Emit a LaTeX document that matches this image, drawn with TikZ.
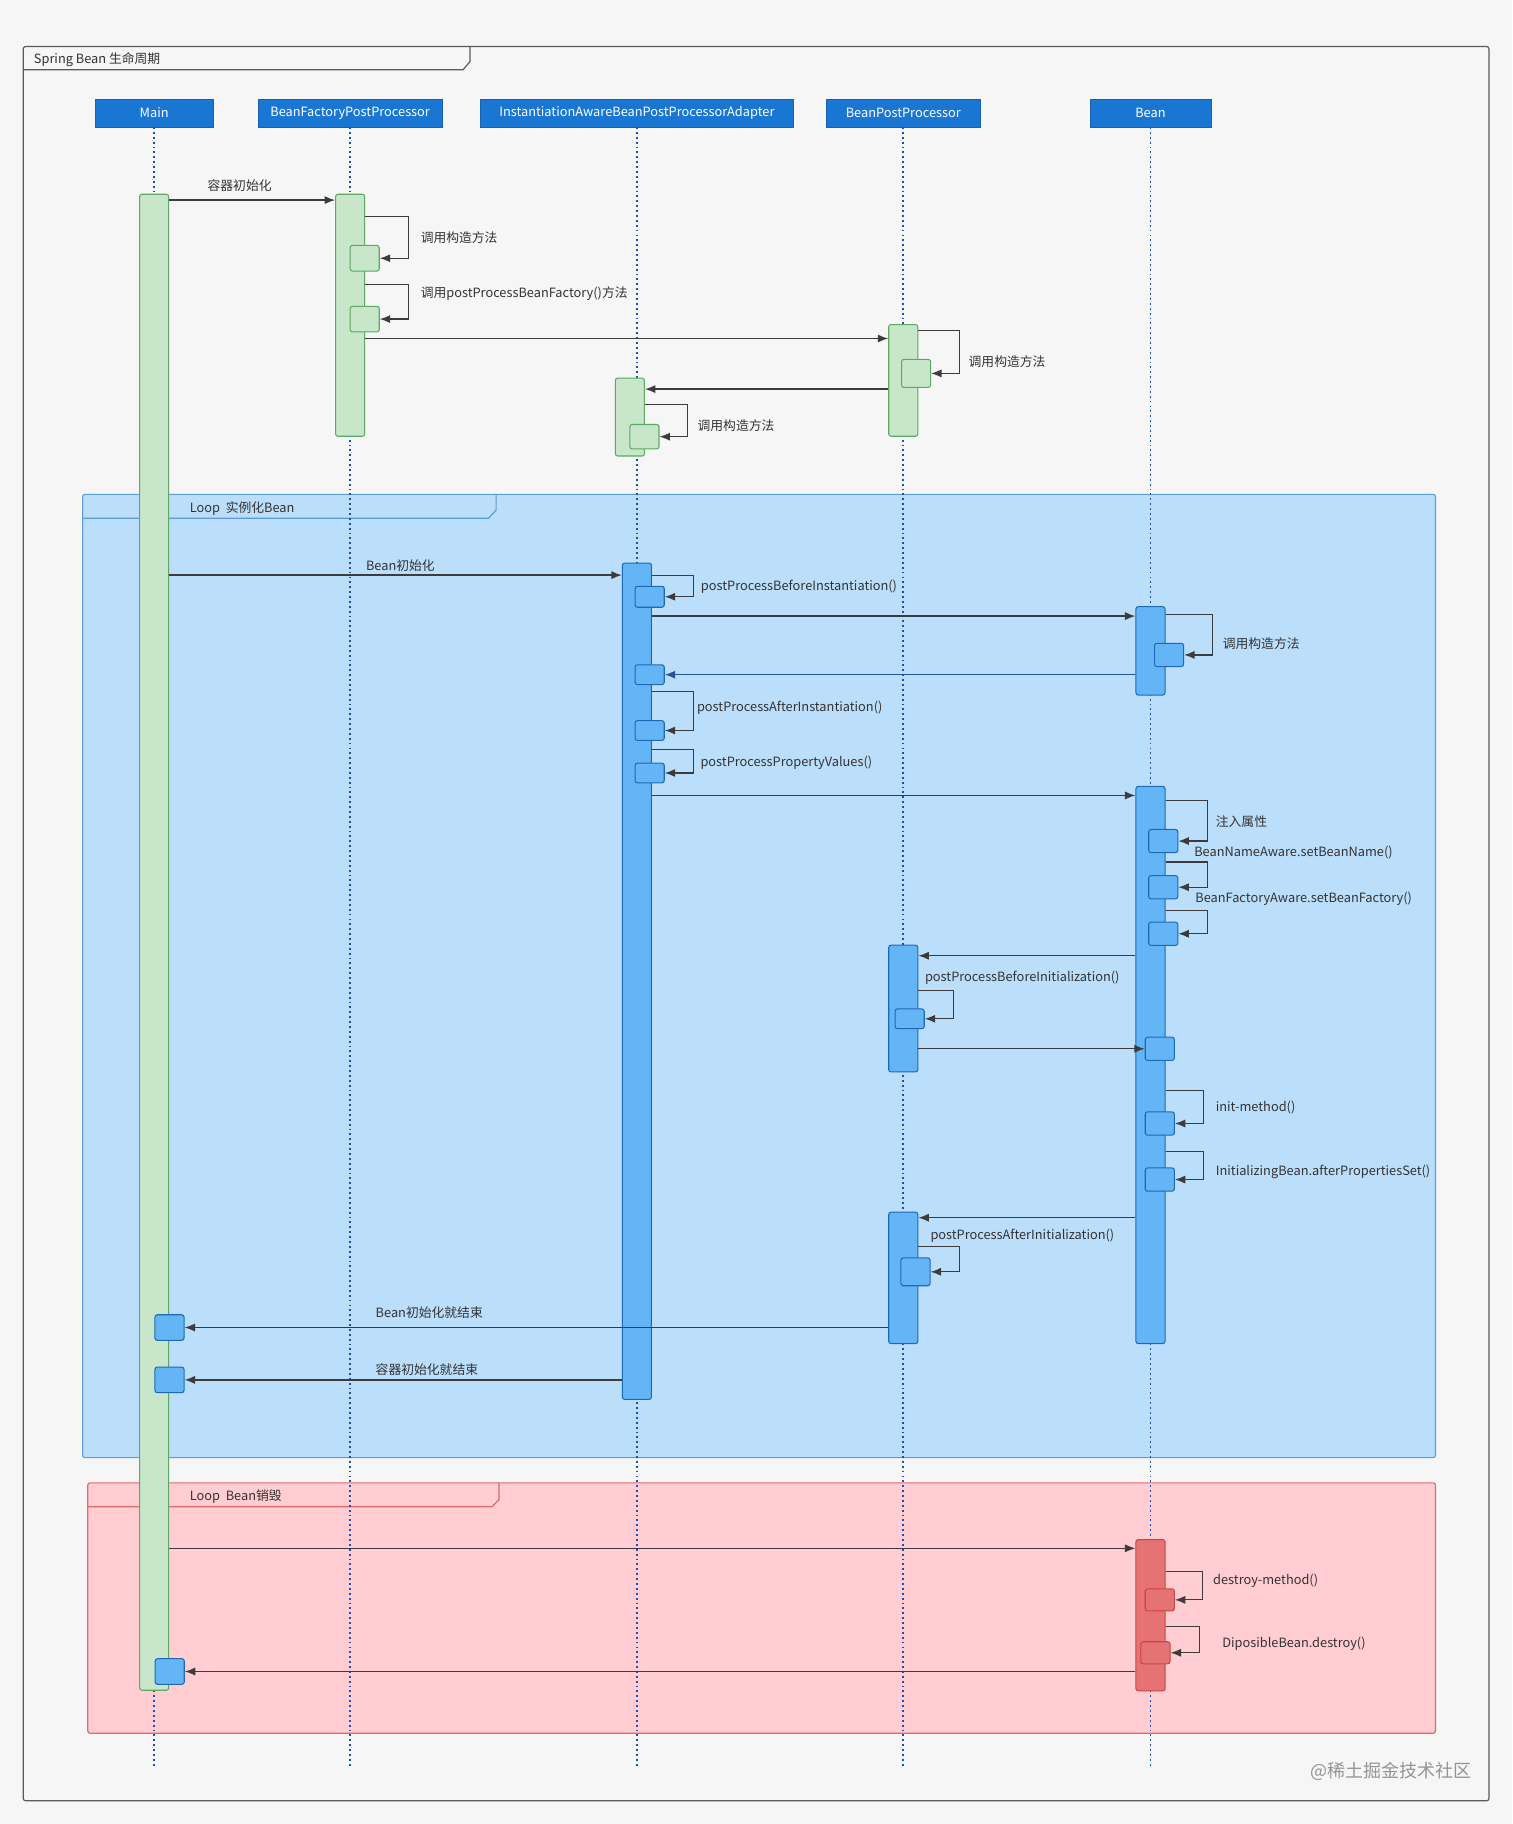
\documentclass[tikz,border=0pt]{standalone}
\usepackage{fontspec}
\setmainfont{Noto Sans CJK SC}
\usetikzlibrary{arrows.meta}

\definecolor{pagebg}{HTML}{F6F6F6}
\definecolor{framegray}{HTML}{5A5A5A}
\definecolor{headblue}{HTML}{1976D2}
\definecolor{lifeblue}{HTML}{1E4FAE}
\definecolor{loopblue}{HTML}{BBDEFB}
\definecolor{loopblueline}{HTML}{5E9CD8}
\definecolor{loopred}{HTML}{FFCDD2}
\definecolor{loopredline}{HTML}{E06A6A}
\definecolor{actgreen}{HTML}{C8E6C9}
\definecolor{actgreenline}{HTML}{5FA863}
\definecolor{actblue}{HTML}{64B5F6}
\definecolor{actblueline}{HTML}{1F68B8}
\definecolor{actred}{HTML}{E57373}
\definecolor{actredline}{HTML}{C84545}
\definecolor{msgline}{HTML}{3C3C3C}
\definecolor{retblue}{HTML}{24549A}
\definecolor{labeltext}{HTML}{333333}

\tikzset{
    lbl/.style={anchor=west, inner sep=0pt, text=labeltext, font=\fontsize{11}{13}\selectfont},
    header/.style={rectangle, fill=headblue, draw=headblue!85!black, text=white, minimum height=24pt, inner sep=0pt, font=\fontsize{11}{13}\selectfont},
    lifeline/.style={draw=lifeblue, line width=1.6pt, dash pattern=on 1.6pt off 2.6pt},
    act/.style={rectangle, rounded corners=2pt, inner sep=0pt, minimum width=25pt, line width=0.9pt},
    gact/.style={act, fill=actgreen, draw=actgreenline},
    bact/.style={act, fill=actblue, draw=actblueline},
    ract/.style={act, fill=actred, draw=actredline},
    msg/.style={draw=msgline, line width=1.1pt, -{Latex[length=9pt,width=7pt]}},
}

\begin{document}
\begin{tikzpicture}[x=1pt, y=-1pt]
            \useasboundingbox (0,0) rectangle (1300,1568);
            \fill[pagebg] (0,0) rectangle (1300,1568);
            \draw[framegray, line width=1pt, rounded corners=2pt] (20,40) rectangle (1280,1548);
            \draw[framegray, line width=1pt] (20,60) -- (398,60) -- (404,53) -- (404,40);
            \node[lbl] (title) at (29,51) {Spring Bean 生命周期};
            \draw[fill=loopblue, draw=loopblueline, line width=1pt, rounded corners=2pt] (71,425) rectangle (1234,1253);
            \draw[loopblueline, line width=1pt] (71,445.5) -- (420,445.5) -- (426.5,438.5) -- (426.5,425);
            \node[lbl] (loopInst) at (163,437) {Loop\ \ 实例化Bean};
            \draw[fill=loopred, draw=loopredline, line width=1pt, rounded corners=2pt] (75.5,1274.7) rectangle (1234,1490);
            \draw[loopredline, line width=1pt] (75.5,1295.3) -- (423,1295.3) -- (429,1289) -- (429,1274.7);
            \node[lbl] (loopDestroy) at (163,1286.7) {Loop\ \ Bean销毁};
            \node[header, minimum width=101pt] (hMain) at (132.5,97) {Main};
            \node[header, minimum width=158pt] (hBFPP) at (301,97) {BeanFactoryPostProcessor};
            \node[header, minimum width=269pt] (hIA) at (547.5,97) {InstantiationAwareBeanPostProcessorAdapter};
            \node[header, minimum width=133pt] (hBPP) at (776.5,97) {BeanPostProcessor};
            \node[header, minimum width=104pt] (hBean) at (989,97) {Bean};
            \coordinate (lifeend) at (0,1520);
            \foreach \n in {hMain,hBFPP,hIA,hBPP,hBean}
                \draw[lifeline] (\n.south) -- (\n.south |- lifeend);
            \node[gact, minimum height=1286pt] (mainAct) at (hMain |- 0,810) {};
            \node[gact, minimum height=208pt] (bfppAct) at (hBFPP |- 0,271) {};
            \node[gact, minimum height=96pt] (bppAct1) at (hBPP |- 0,327) {};
            \node[gact, minimum height=67pt] (iaAct1) at (541.5,358.5) {};
            \node[bact, minimum height=719pt] (iaAct2) at (hIA |- 0,843.5) {};
            \node[bact, minimum height=76pt] (beanAct1) at (hBean |- 0,559.5) {};
            \node[bact, minimum height=479pt] (beanAct2) at (hBean |- 0,915.5) {};
            \node[bact, minimum height=109pt] (bppAct2) at (hBPP |- 0,867) {};
            \node[bact, minimum height=113pt] (bppAct3) at (hBPP |- 0,1098.5) {};
            \node[ract, minimum height=130pt] (beanAct3) at (hBean |- 0,1388.5) {};
            \node[gact, minimum height=22pt] (bfppS1) at (313.5,222) {};
            \node[gact, minimum height=22pt] (bfppS2) at (313.5,274.3) {};
            \node[gact, minimum height=24pt] (bppS1) at (787.5,321) {};
            \node[gact, minimum height=21pt] (iaS1) at (554,375.4) {};
            \node[bact, minimum height=18pt] (iaS2) at (558.5,513) {};
            \node[bact, minimum height=20pt] (beanS1) at (1005,563) {};
            \node[bact, minimum height=17pt] (iaS3) at (558.5,580) {};
            \node[bact, minimum height=17pt] (iaS4) at (558.5,628) {};
            \node[bact, minimum height=17pt] (iaS5) at (558.5,664.5) {};
            \node[bact, minimum height=20pt] (beanS2) at (1000,723) {};
            \node[bact, minimum height=20pt] (beanS3) at (1000,762.7) {};
            \node[bact, minimum height=20pt] (beanS4) at (1000,802.7) {};
            \node[bact, minimum height=17pt] (bppS2) at (782,875.8) {};
            \node[bact, minimum height=20pt] (beanS5) at (997,901.6) {};
            \node[bact, minimum height=20pt] (beanS6) at (997,965.8) {};
            \node[bact, minimum height=20pt] (beanS7) at (997,1014) {};
            \node[bact, minimum height=24pt] (bppS3) at (787,1093.3) {};
            \node[bact, minimum height=22pt] (mainS1) at (145.7,1141.2) {};
            \node[bact, minimum height=22pt] (mainS2) at (145.7,1186.2) {};
            \node[bact, minimum height=22pt] (mainS3) at (145.9,1436.9) {};
            \node[ract, minimum height=19pt] (beanS8) at (997,1375.3) {};
            \node[ract, minimum height=19pt] (beanS9) at (993.3,1420.8) {};
            \draw[msg] (mainAct.east |- 0,172) -- (bfppAct.west |- 0,172);
            \draw[msg] (bfppAct.east |- 0,291) -- (bppAct1.west |- 0,291);
            \draw[msg] (bppAct1.west |- 0,334.5) -- (iaAct1.east |- 0,334.5);
            \draw[msg] (mainAct.east |- 0,494.4) -- (iaAct2.west |- 0,494.4);
            \draw[msg] (iaAct2.east |- 0,529.6) -- (beanAct1.west |- 0,529.6);
            \draw[msg, draw=retblue] (beanAct1.west |- iaS3) -- (iaS3.east);
            \draw[msg] (iaAct2.east |- 0,683.8) -- (beanAct2.west |- 0,683.8);
            \draw[msg] (beanAct2.west |- 0,821.6) -- (bppAct2.east |- 0,821.6);
            \draw[msg] (bppAct2.east |- beanS5) -- (beanS5.west);
            \draw[msg] (beanAct2.west |- 0,1046.8) -- (bppAct3.east |- 0,1046.8);
            \draw[msg] (bppAct3.west |- mainS1) -- (mainS1.east);
            \draw[msg] (iaAct2.west |- mainS2) -- (mainS2.east);
            \draw[msg] (mainAct.east |- 0,1331) -- (beanAct3.west |- 0,1331);
            \draw[msg] (beanAct3.west |- mainS3) -- (mainS3.east);
            \draw[msg] (bfppAct.east |- 0,186.3) -- (351,186.3) |- (bfppS1.east);
            \draw[msg] (bfppAct.east |- 0,244.7) -- (351,244.7) |- (bfppS2.east);
            \draw[msg] (bppAct1.east |- 0,284.3) -- (825,284.3) |- (bppS1.east);
            \draw[msg] (iaAct1.east |- 0,347.5) -- (591,347.5) |- (iaS1.east);
            \draw[msg] (iaAct2.east |- 0,495) -- (596,495) |- (iaS2.east);
            \draw[msg] (beanAct1.east |- 0,528) -- (1042.6,528) |- (beanS1.east);
            \draw[msg] (iaAct2.east |- 0,594.7) -- (596,594.7) |- (iaS4.east);
            \draw[msg] (iaAct2.east |- 0,644.5) -- (596,644.5) |- (iaS5.east);
            \draw[msg] (beanAct2.east |- 0,688.4) -- (1037.8,688.4) |- (beanS2.east);
            \draw[msg] (beanAct2.east |- 0,741) -- (1037.8,741) |- (beanS3.east);
            \draw[msg] (beanAct2.east |- 0,783) -- (1037.8,783) |- (beanS4.east);
            \draw[msg] (bppAct2.east |- 0,851.7) -- (819.7,851.7) |- (bppS2.east);
            \draw[msg] (beanAct2.east |- 0,937.7) -- (1034.3,937.7) |- (beanS6.east);
            \draw[msg] (beanAct2.east |- 0,989.8) -- (1034.3,989.8) |- (beanS7.east);
            \draw[msg] (bppAct3.east |- 0,1071.8) -- (824.8,1071.8) |- (bppS3.east);
            \draw[msg] (beanAct3.east |- 0,1350.7) -- (1034,1350.7) |- (beanS8.east);
            \draw[msg] (beanAct3.east |- 0,1398.5) -- (1031,1398.5) |- (beanS9.east);
            \node[lbl, anchor=center] (mInit) at (206,159.7) {容器初始化};
            \node[lbl] (mCtor1) at (361.5,204.3) {调用构造方法};
            \node[lbl] (mFactory) at (361.5,252.8) {调用postProcessBeanFactory()方法};
            \node[lbl] (mCtor2) at (832.5,311) {调用构造方法};
            \node[lbl] (mCtor3) at (599.5,366) {调用构造方法};
            \node[lbl] (mBeanInit) at (314.5,486) {Bean初始化};
            \node[lbl] (mBeforeInst) at (602.4,504) {postProcessBeforeInstantiation()};
            \node[lbl] (mCtor4) at (1051,553.7) {调用构造方法};
            \node[lbl] (mAfterInst) at (599,608) {postProcessAfterInstantiation()};
            \node[lbl] (mProps) at (602,655.7) {postProcessPropertyValues()};
            \node[lbl] (mInject) at (1045,706.4) {注入属性};
            \node[lbl] (mName) at (1026.5,733) {BeanNameAware.setBeanName()};
            \node[lbl] (mFactoryAware) at (1027.4,772.6) {BeanFactoryAware.setBeanFactory()};
            \node[lbl] (mBeforeInit) at (795,840.3) {postProcessBeforeInitialization()};
            \node[lbl] (mInitMethod) at (1045,952) {init-method()};
            \node[lbl] (mAfterProps) at (1045,1007.4) {InitializingBean.afterPropertiesSet()};
            \node[lbl] (mAfterInit) at (799.7,1062.3) {postProcessAfterInitialization()};
            \node[lbl] (mBeanDone) at (322.8,1128) {Bean初始化就结束};
            \node[lbl] (mCtxDone) at (322.8,1177.3) {容器初始化就结束};
            \node[lbl] (mDestroy) at (1042.7,1359) {destroy-method()};
            \node[lbl] (mDisposable) at (1050.6,1412.8) {DiposibleBean.destroy()};
            \node[anchor=west, inner sep=0pt, text=black!42, font=\fontsize{15.5}{18}\selectfont] (mark) at (1126,1523) {@稀土掘金技术社区};
\end{tikzpicture}
\end{document}
